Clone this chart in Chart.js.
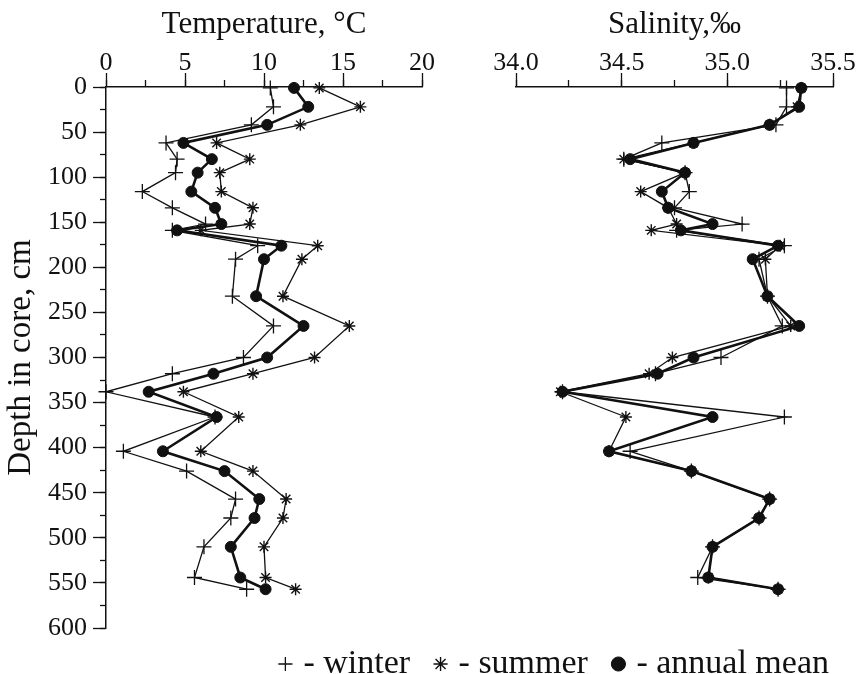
<!DOCTYPE html>
<html>
<head>
<meta charset="utf-8">
<title>Temperature and salinity in core</title>
<script src="https://cdn.jsdelivr.net/npm/chart.js@4.4.1/dist/chart.umd.min.js"></script>
<style>
  body { margin: 0; background: #fff; overflow: hidden; }
  #wrap { position: relative; width: 859px; height: 674px; overflow: hidden; }
  canvas { position: absolute; left: 0; top: 0; }
</style>
</head>
<body>
<div id="wrap">
  <canvas id="temp" width="440" height="640"></canvas>
  <canvas id="salt" width="859" height="691"></canvas>
</div>
<script>
// sample depths in the core, cm (same levels for both panels)
var depth = [1, 22, 42, 62, 80, 95, 116, 134, 152, 159, 176, 191, 232, 265, 300, 318, 338, 366, 404, 426, 457, 478, 510, 544, 557];

// temperature, °C
var tempWinter = [10.4, 10.6, 9.2, 3.8, 4.5, 4.4, 2.3, 4.2, 6.3, 4.2, 9.6, 8.2, 8.0, 10.6, 8.7, 4.2, 0.0, 6.9, 1.1, 5.1, 8.2, 7.9, 6.2, 5.6, 8.9];
var tempSummer = [13.5, 16.1, 12.3, 7.0, 9.1, 7.2, 7.3, 9.3, 9.1, 6.0, 13.4, 12.4, 11.2, 15.4, 13.2, 9.3, 4.9, 8.4, 6.0, 9.3, 11.4, 11.2, 10.0, 10.1, 12.0];
var tempMean   = [11.9, 12.8, 10.2, 4.9, 6.7, 5.8, 5.4, 6.9, 7.3, 4.5, 11.1, 10.0, 9.5, 12.5, 10.2, 6.8, 2.7, 7.0, 3.6, 7.5, 9.7, 9.4, 7.9, 8.5, 10.1];

// salinity, per mille
var saltWinter = [35.28, 35.28, 35.23, 34.69, 34.51, 34.80, 34.82, 34.75, 35.07, 34.76, 35.27, 35.15, 35.19, 35.26, 34.97, 34.66, 34.22, 35.27, 34.54, 34.83, 35.20, 35.15, 34.93, 34.86, 35.24];
var saltSummer = [35.35, 35.33, 35.20, 34.84, 34.51, 34.80, 34.59, 34.72, 34.76, 34.64, 35.25, 35.18, 35.19, 35.30, 34.74, 34.63, 34.21, 34.52, 34.44, 34.83, 35.20, 35.15, 34.93, 34.91, 35.24];
var saltMean   = [35.35, 35.34, 35.20, 34.84, 34.54, 34.80, 34.69, 34.72, 34.93, 34.78, 35.24, 35.12, 35.19, 35.34, 34.84, 34.67, 34.22, 34.93, 34.44, 34.83, 35.20, 35.15, 34.93, 34.91, 35.24];

// tick labels
var tempTicks = [0, 5, 10, 15, 20];
var saltTicks = [34.0, 34.5, 35.0, 35.5];
var depthTicks = [0, 50, 100, 150, 200, 250, 300, 350, 400, 450, 500, 550, 600];

var INK = '#111';
var SERIF = '"Liberation Serif", "Times New Roman", serif';

Chart.defaults.color = INK;
Chart.defaults.font.family = SERIF;

function series(values) {
    return depth.map(function(d, i) { return { x: values[i], y: d }; });
}

// no extra room for overhanging end labels, the plot box is placed by hand
function noPad(s) {
    s.paddingTop = 0; s.paddingBottom = 0; s.paddingLeft = 0; s.paddingRight = 0;
}

// the three curves, same look in both panels
function datasets(w, s, m) {
    return [
        { label: '- winter   ', data: series(w), showLine: true, clip: false,
          borderColor: INK, borderWidth: 1.3, pointStyle: 'cross',
          pointRadius: 7.5, pointBorderWidth: 1.3, pointBorderColor: INK },
        { label: '- summer   ', data: series(s), showLine: true, clip: false,
          borderColor: INK, borderWidth: 1.3, pointStyle: 'star',
          pointRadius: 6, pointBorderWidth: 1.4, pointBorderColor: INK },
        { label: '- annual mean', data: series(m), showLine: true, clip: false,
          borderColor: INK, borderWidth: 2.6, pointStyle: 'circle',
          pointRadius: 5.5, pointBorderWidth: 1, pointBorderColor: INK, pointBackgroundColor: INK }
    ];
}

// top axis: labelled major ticks + a zero-height axis carrying the short minor ticks
function topAxes(min, max, majors, minorStep, title, fmt) {
    return {
        x: {
            type: 'linear', axis: 'x', position: 'top', min: min, max: max, weight: 2,
            afterBuildTicks: function(s) { s.ticks = majors.map(function(v) { return { value: v }; }); },
            afterFit: function(s) { s.height = 87; noPad(s); },
            ticks: { font: { size: 26, lineHeight: 1 }, padding: -3, maxRotation: 0, autoSkip: false,
                     callback: fmt },
            grid: { drawOnChartArea: false, tickLength: 14, tickColor: INK, tickWidth: 1.3 },
            border: { color: INK, width: 1.5 },
            title: { display: true, text: title, font: { size: 31 }, padding: { top: 6, bottom: 0 } }
        },
        xMinor: {
            type: 'linear', axis: 'x', position: 'top', min: min, max: max, weight: 1,
            afterFit: function(s) { s.height = 0; noPad(s); },
            ticks: { display: false, stepSize: minorStep },
            grid: { drawOnChartArea: false, tickLength: 7, tickColor: INK, tickWidth: 1.3 },
            border: { display: false }
        }
    };
}

// left panel: temperature
var tScales = topAxes(0, 20, tempTicks, 2.5, 'Temperature, °C', function(v) { return v; });
tScales.y = {
    type: 'linear', position: 'left', min: 0, max: 600, reverse: true, weight: 2,
    afterBuildTicks: function(s) { s.ticks = depthTicks.map(function(v) { return { value: v }; }); },
    afterFit: function(s) { s.width = 106; noPad(s); },
    ticks: { font: { size: 26 }, padding: 6, autoSkip: false },
    grid: { drawOnChartArea: false, tickLength: 13, tickColor: INK, tickWidth: 1.3 },
    border: { color: INK, width: 1.5 },
    title: { display: true, text: 'Depth in core, cm', font: { size: 33 }, padding: { top: 2, bottom: 0 } }
};
tScales.yMinor = {
    type: 'linear', axis: 'y', position: 'left', min: 0, max: 600, reverse: true, weight: 1,
    afterFit: function(s) { s.width = 0; noPad(s); },
    ticks: { display: false, stepSize: 25 },
    grid: { drawOnChartArea: false, tickLength: 6, tickColor: INK, tickWidth: 1.3 },
    border: { display: false }
};

new Chart(document.getElementById('temp'), {
    type: 'scatter',
    data: { datasets: datasets(tempWinter, tempSummer, tempMean) },
    options: {
        responsive: false, animation: false,
        layout: { padding: { left: 0, top: 0, right: 18, bottom: 12 } },
        plugins: { legend: { display: false }, tooltip: { enabled: false } },
        scales: tScales
    }
});

// right panel: salinity, carries the legend
var sScales = topAxes(34, 35.5, saltTicks, 0.25, 'Salinity,‰', function(v) { return v.toFixed(1); });
sScales.y = {
    type: 'linear', position: 'left', min: 0, max: 600, reverse: true,
    afterFit: function(s) { s.width = 516; noPad(s); },
    ticks: { display: false },
    grid: { display: false },
    border: { display: false }
};
// invisible spacer under the plot so the legend sits lower
sScales.xPad = {
    type: 'linear', axis: 'x', position: 'bottom', min: 0, max: 1,
    afterFit: function(s) { s.height = 15; noPad(s); },
    ticks: { display: false },
    grid: { display: false },
    border: { display: false }
};

new Chart(document.getElementById('salt'), {
    type: 'scatter',
    data: { datasets: datasets(saltWinter, saltSummer, saltMean) },
    options: {
        responsive: false, animation: false,
        layout: { padding: { left: 0, top: 0, right: 26, bottom: 0 } },
        plugins: {
            tooltip: { enabled: false },
            legend: {
                position: 'bottom', align: 'end',
                labels: { usePointStyle: true, boxWidth: 2, boxHeight: 10, padding: 4,
                          color: INK, font: { size: 34 } }
            }
        },
        scales: sScales
    }
});
</script>
</body>
</html>
